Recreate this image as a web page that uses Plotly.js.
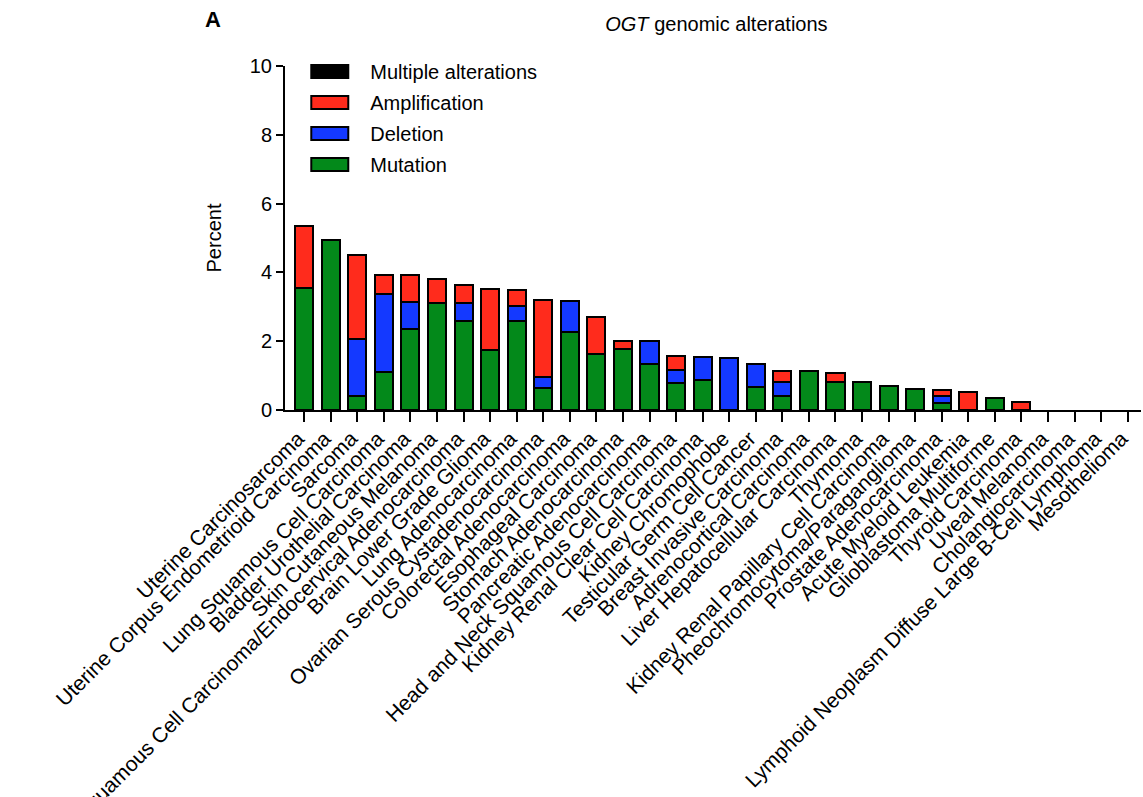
<!DOCTYPE html>
<html><head><meta charset="utf-8">
<script src="https://cdn.plot.ly/plotly-3.0.1.min.js"></script>
<style>body{margin:0;background:#fff}#chart{width:1143px;height:797px}</style>
</head><body><div id="chart"></div>
<script>
const categories = [
  "Uterine Carcinosarcoma",
  "Uterine Corpus Endometrioid Carcinoma",
  "Sarcoma",
  "Lung Squamous Cell Carcinoma",
  "Bladder Urothelial Carcinoma",
  "Skin Cutaneous Melanoma",
  "Cervical Squamous Cell Carcinoma/Endocervical Adenocarcinoma",
  "Brain Lower Grade Glioma",
  "Lung Adenocarcinoma",
  "Ovarian Serous Cystadenocarcinoma",
  "Colorectal Adenocarcinoma",
  "Esophageal Carcinoma",
  "Stomach Adenocarcinoma",
  "Pancreatic Adenocarcinoma",
  "Head and Neck Squamous Cell Carcinoma",
  "Kidney Renal Clear Cell Carcinoma",
  "Kidney Chromophobe",
  "Testicular Germ Cell Cancer",
  "Breast Invasive Carcinoma",
  "Adrenocortical Carcinoma",
  "Liver Hepatocellular Carcinoma",
  "Thymoma",
  "Kidney Renal Papillary Cell Carcinoma",
  "Pheochromocytoma/Paraganglioma",
  "Prostate Adenocarcinoma",
  "Acute Myeloid Leukemia",
  "Glioblastoma Multiforme",
  "Thyroid Carcinoma",
  "Uveal Melanoma",
  "Cholangiocarcinoma",
  "Lymphoid Neoplasm Diffuse Large B-Cell Lymphoma",
  "Mesothelioma"
];
const mutation = [3.55,4.95,0.40,1.10,2.35,3.10,2.60,1.74,2.58,0.63,2.27,1.63,1.76,1.34,0.78,0.87,0,0.66,0.41,1.13,0.81,0.82,0.71,0.61,0.20,0,0.36,0,0,0,0,0];
const deletion = [0,0,1.65,2.26,0.78,0,0.50,0,0.43,0.33,0.91,0,0,0.67,0.38,0.68,1.51,0.68,0.41,0,0,0,0,0,0.22,0,0,0,0,0,0,0];
const amplification = [1.81,0,2.47,0.56,0.79,0.72,0.53,1.78,0.47,2.25,0,1.08,0.25,0,0.42,0,0,0,0.31,0,0.27,0,0,0,0.17,0.53,0,0.24,0,0,0,0];
const multiple = [0,0,0,0,0,0,0,0,0,0,0,0,0,0,0,0,0,0,0,0,0,0,0,0,0,0,0,0,0,0,0,0];
const yTicks = [0,2,4,6,8,10];

const FONT = "Arial, 'Liberation Sans', sans-serif";
function mk(name, vals, color, grp, rank){
  return {type:'bar', name:name, x:categories, y:vals.map(v => v === 0 ? null : v), legendgroup:grp, legendrank:rank,
    marker:{color:color, line:{color:'#000', width:2}}, hoverinfo:'y+name'};
}
const data = [
  mk('Mutation', mutation, '#03891a', 'g4', 4),
  mk('Deletion', deletion, '#1439ff', 'g3', 3),
  mk('Amplification', amplification, '#ff2b1c', 'g2', 2),
  mk('Multiple alterations', multiple, '#000000', 'g1', 1)
];
const layout = {
  width:1143, height:797,
  margin:{l:285, r:2, t:66, b:387},
  paper_bgcolor:'#fff', plot_bgcolor:'#fff',
  barmode:'stack', bargap:0.32,
  font:{family:FONT, color:'#000', size:20},
  title:{text:'<i>OGT</i> genomic alterations', x:0.504, xref:'paper', y:0.97, yref:'container', yanchor:'middle', font:{family:FONT, size:20, color:'#000'}},
  showlegend:true,
  legend:{x:0.005, y:1.041, xanchor:'left', yanchor:'top', traceorder:'grouped', tracegroupgap:2, font:{size:20}, bgcolor:'rgba(0,0,0,0)', itemwidth:71},
  xaxis:{type:'category', range:[-0.72,31.5], tickangle:-45, ticks:'outside', ticklen:10, tickwidth:2, tickcolor:'#000',
    ticklabelshift:-6, ticklabelstandoff:-4,
    showline:true, linecolor:'#000', linewidth:2, showgrid:false, zeroline:false, tickfont:{size:21, family:FONT}, automargin:false},
  yaxis:{range:[0,10], tickvals:yTicks, ticktext:yTicks.map(String), ticks:'outside', ticklen:7, tickwidth:2, tickcolor:'#000',
    showline:true, linecolor:'#000', linewidth:2, showgrid:false, zeroline:false, tickfont:{size:20, family:FONT},
    title:{text:'Percent', font:{size:20, family:FONT}, standoff:23}, automargin:false},
  annotations:[{text:'<b>A</b>', xref:'paper', yref:'paper', x:-0.084, y:1.134, xanchor:'center', yanchor:'middle', showarrow:false, font:{size:22, family:FONT}}]
};
Plotly.newPlot('chart', data, layout, {displayModeBar:false, staticPlot:true}).then(function(){
  document.querySelectorAll('.legend .legendpoints path').forEach(function(p){
    p.setAttribute('d', 'M-18.5,-6.5h37v13h-37Z');
    p.style.strokeWidth = '2px';
    p.style.stroke = '#000';
  });
});
</script></body></html>
